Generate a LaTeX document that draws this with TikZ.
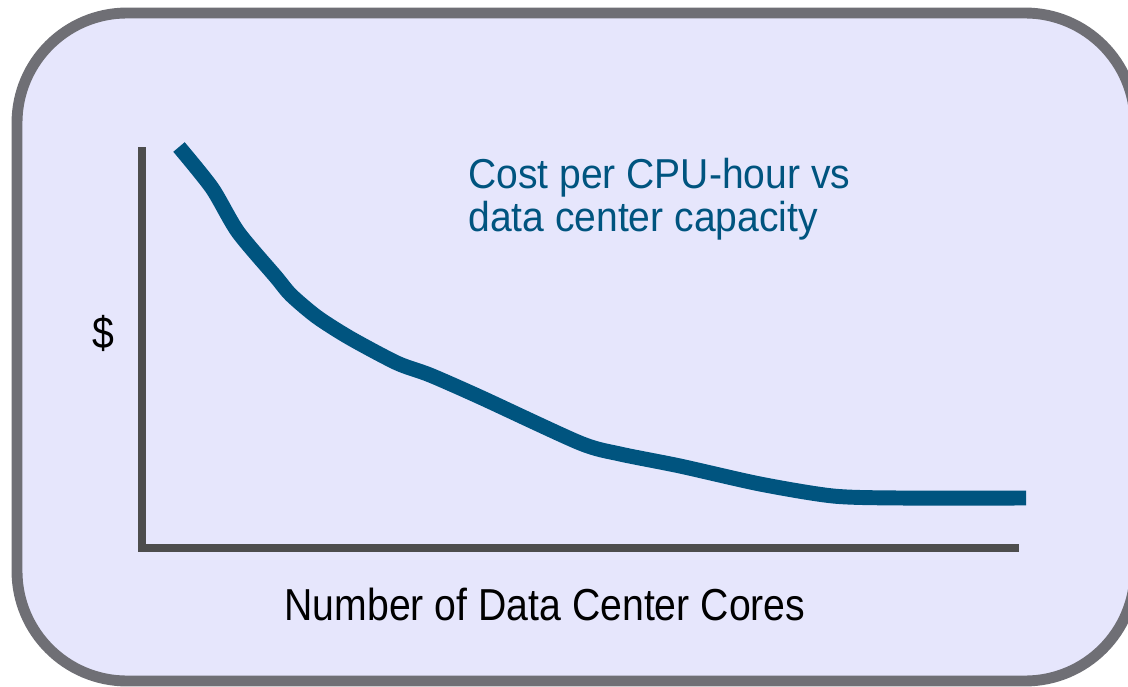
\documentclass[tikz,border=0pt]{standalone}
\usepackage{fontspec}
\setmainfont{Liberation Sans}
\usetikzlibrary{positioning}

\definecolor{panelfill}{RGB}{230,230,252}
\definecolor{panelrim}{RGB}{111,111,117}
\definecolor{axisgray}{RGB}{77,77,77}
\definecolor{costblue}{RGB}{0,84,127}

\tikzset{
  axisline/.style={line width=4pt,axisgray},
  costcurve/.style={line width=8.5pt,costblue},
  titletext/.style={font=\fontsize{23.8}{28}\selectfont,text=costblue,inner sep=0pt,xscale=0.934,anchor=base west},
  labeltext/.style={font=\fontsize{25.5}{30}\selectfont,text=black,inner sep=0pt,xscale=0.875,anchor=base}
}

\begin{document}
\begin{tikzpicture}[x=0.02cm,y=-0.02cm]
  \useasboundingbox (0,0) rectangle (1128,686);
  \begin{scope}
    \clip (0,0) rectangle (1128,686);
    \draw[line width=6.2pt,panelrim,fill=panelfill,rounded corners=2.2cm]
      (17,13) rectangle (1135,681);
  \end{scope}
  % axes
  \coordinate (pO) at (142,548);
  \coordinate (pY) at (142,147);
  \coordinate (pX) at (1019,548);
  \draw[axisline] (pY) -- (pO) -- (pX);
  % cost curve
  \draw[costcurve] plot[smooth,tension=0.45] coordinates {
    (179,147) (212,188) (238,232) (276,277) (291,295) (317,317)
    (350,338) (397,363) (430,375) (480,397) (580,443) (620,454)
    (680,466) (760,484) (833,496) (900,498) (1026,498)};
  \node[titletext] (costA) at (468,188) {Cost per CPU-hour vs};
  \node[titletext] (costB) at (468,231) {data center capacity};
  \node[labeltext] (yLabel) at (103,348) {\$};
  \node[labeltext] (xLabel) at (545,620) {Number of Data Center Cores};
\end{tikzpicture}
\end{document}
